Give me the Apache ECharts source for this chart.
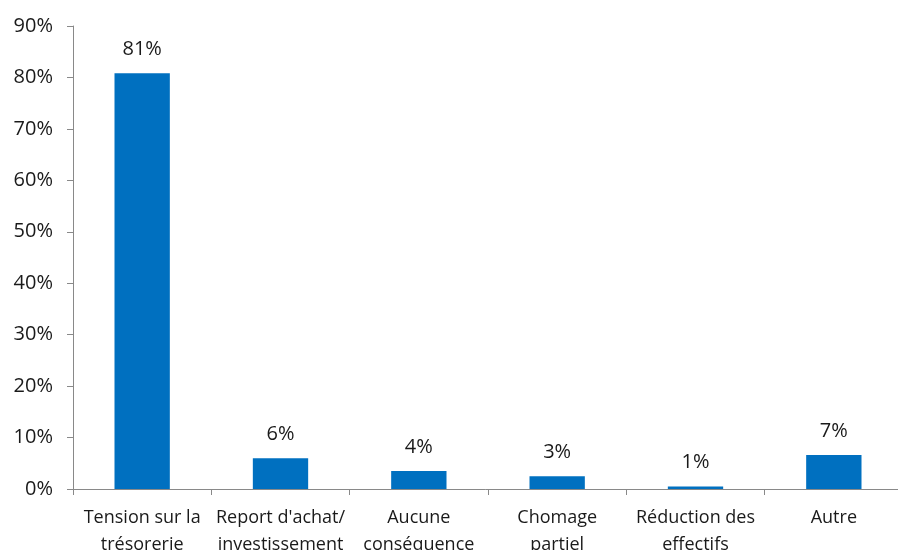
<!DOCTYPE html>
<html>
<head>
<meta charset="utf-8">
<script src="https://cdn.jsdelivr.net/npm/echarts@6/dist/echarts.min.js"></script>
<style>html,body{margin:0;padding:0;background:#fff;}#c{width:898px;height:550px;}</style>
</head>
<body>
<div id="c"></div>
<script>
const categories = ["Tension sur la\ntrésorerie", "Report d'achat/\ninvestissement", "Aucune\nconséquence", "Chomage\npartiel", "Réduction des\neffectifs", "Autre"];
const values = [80.8, 6.0, 3.5, 2.5, 0.5, 6.6];
const valueLabels = ["81%", "6%", "4%", "3%", "1%", "7%"];

const chart = echarts.init(document.getElementById('c'), null, {renderer: 'canvas'});
const font = "'Open Sans', 'Liberation Sans', sans-serif";
chart.setOption({
  animation: false,
  backgroundColor: '#fff',
  grid: {left: 73, top: 26, bottom: 61, right: -5, containLabel: false, outerBoundsMode: 'none'},
  xAxis: {
    type: 'category',
    data: categories,
    axisLine: {lineStyle: {color: '#898989', width: 1}},
    axisTick: {show: true, length: 6, lineStyle: {color: '#898989'}},
    axisLabel: {color: '#1a1a1a', fontSize: 18, fontFamily: font, margin: 15, lineHeight: 27, interval: 0}
  },
  yAxis: {
    type: 'value',
    min: 0, max: 90, interval: 10,
    splitLine: {show: false},
    axisLine: {show: true, lineStyle: {color: '#898989', width: 1}},
    axisTick: {show: true, length: 6, lineStyle: {color: '#898989'}},
    axisLabel: {color: '#1a1a1a', fontSize: 20, fontFamily: font, margin: 20, formatter: v => v + '%'}
  },
  series: [{
    type: 'bar',
    data: values,
    barWidth: '40%',
    itemStyle: {color: '#0070C0'},
    label: {
      show: true, position: 'top', distance: 14,
      color: '#1a1a1a', fontSize: 20, fontFamily: font,
      formatter: p => valueLabels[p.dataIndex]
    }
  }]
});
</script>
</body>
</html>
